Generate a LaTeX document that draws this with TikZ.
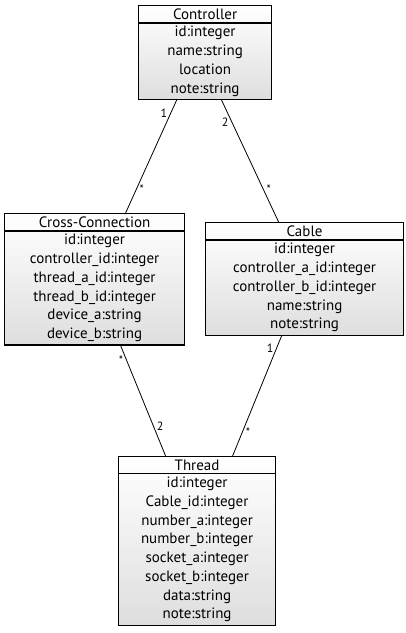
\documentclass[tikz,border=0pt]{standalone}
\usepackage{fontspec}
\setmainfont{PT Sans}
\usetikzlibrary{shapes.multipart}

\begin{document}
\begin{tikzpicture}[x=1pt, y=-1pt,
    classbox/.style={rectangle split, rectangle split parts=2, draw, line width=1.2pt,
      top color=white, bottom color=black!13, align=center, anchor=north west,
      font=\fontsize{15}{18.7}\selectfont, inner xsep=0pt, inner ysep=2.7pt},
    mult/.style={font=\fontsize{12}{14}\selectfont, inner sep=3pt},
    assoc/.style={line width=0.8pt}]
    \useasboundingbox (0,0) rectangle (406,633);

    % Boxes
    \node[classbox, text width=133pt] (controller) at (138,5)
      {Controller \nodepart{two} id:integer\\ name:string\\ location\\ note:string};
    \node[classbox, text width=180pt] (crossconn) at (4,213)
      {Cross-Connection \nodepart{two} id:integer\\ controller\_id:integer\\ thread\_a\_id:integer\\
       thread\_b\_id:integer\\ device\_a:string\\ device\_b:string};
    \node[classbox, text width=198pt] (cable) at (205,222)
      {Cable \nodepart{two} id:integer\\ controller\_a\_id:integer\\ controller\_b\_id:integer\\
       name:string\\ note:string};
    \node[classbox, text width=157pt] (thread) at (118,456)
      {Thread \nodepart{two} id:integer\\ Cable\_id:integer\\ number\_a:integer\\ number\_b:integer\\
       socket\_a:integer\\ socket\_b:integer\\ data:string\\ note:string};

    % Lines
    \draw[assoc] ([xshift=-28.5pt]controller.south) -- ([xshift=31pt]crossconn.north)
      node[mult, pos=.12, left] {1} node[mult, pos=.79, right] {*};
    \draw[assoc] ([xshift=16.5pt]controller.south) -- ([xshift=-26pt]cable.north)
      node[mult, pos=.18, left] {2} node[mult, pos=.73, right] {*};
    \draw[assoc] ([xshift=26pt]crossconn.south) -- ([xshift=-31.5pt]thread.north)
      node[mult, pos=.13, left] {*} node[mult, pos=.73, right] {2};
    \draw[assoc] ([xshift=-23pt]cable.south) -- ([xshift=35.5pt]thread.north)
      node[mult, pos=.1, left] {1} node[mult, pos=.8, right] {*};
\end{tikzpicture}
\end{document}
